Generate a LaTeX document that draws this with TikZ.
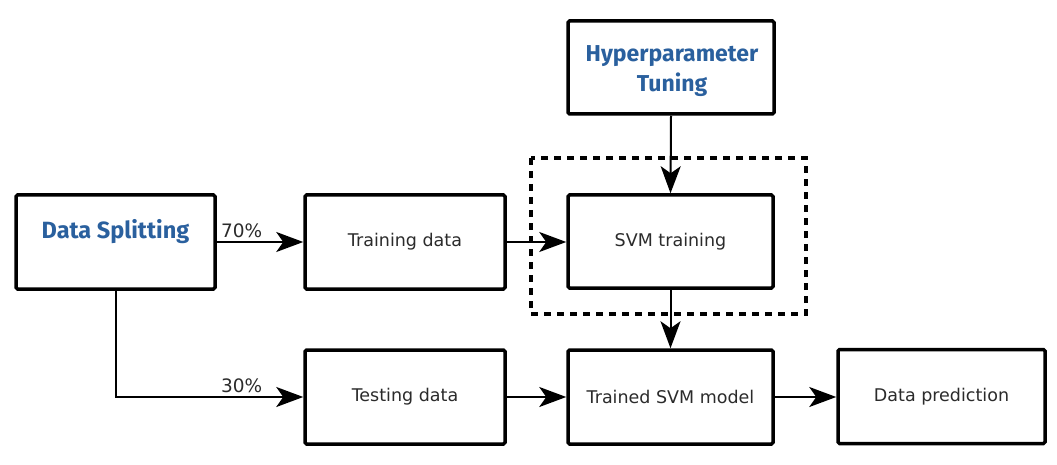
\documentclass[tikz,border=0pt]{standalone}
\usepackage{fontspec}
\setmainfont{DejaVu Sans}
\newfontfamily\headfont{Fira Sans}
\usetikzlibrary{arrows.meta}
\definecolor{headblue}{HTML}{2A609E}
\definecolor{txtgray}{HTML}{2B2B2B}
\tikzset{
  box/.style={draw=black, line width=3.5pt, rounded corners=1.5pt, minimum width=200pt, minimum height=93pt, inner sep=0pt, align=center, font=\fontsize{17.5}{20}\selectfont, text=txtgray},
  headtext/.style={font=\headfont\bfseries\fontsize{23}{30}\selectfont, text=headblue, inner sep=0pt, align=center},
  conn/.style={draw=black, line width=2pt, -{Stealth[length=27pt, width=20pt, inset=7pt]}},
  pct/.style={font=\fontsize{18.5}{20}\selectfont, text=txtgray, inner sep=0pt, anchor=base west},
  dashbox/.style={draw=black, line width=3.5pt, dash pattern=on 7pt off 6pt}
}
\begin{document}
\begin{tikzpicture}[x=1pt,y=-1pt]
\useasboundingbox (0,0) rectangle (1057,465);
\fill[white] (0,0) rectangle (1057,465);
% dashed grouping frame
\draw[dashbox] (531,158) rectangle (806,314);
% boxes
\node[box, minimum width=199pt, minimum height=94pt] (ds) at (115.5,242) {};
\node[headtext, font=\headfont\bfseries\fontsize{23.5}{30}\selectfont] (dstext) at (115.5,232) {Data Splitting};
\node[box, minimum height=94pt] (train) at (405,242) {Training data};
\node[box, minimum height=94pt] (test) at (405,397) {Testing data};
\node[box, minimum width=206pt] (hyp) at (671,67.5) {};
\node[headtext] (hyptext) at (672,71) {Hyperparameter\\Tuning};
\node[box, minimum width=205pt] (svm) at (670.5,241.5) {SVM training};
\node[box, minimum width=205pt, minimum height=94pt] (trained) at (670.5,397) {Trained SVM model};
\node[box, minimum width=207pt, minimum height=94pt] (pred) at (941.5,396.5) {Data prediction};
% connectors
\coordinate (corner) at (ds.south |- test.west);
\draw[conn] (ds.east |- train.west) -- (train.west);
\draw[conn] (ds.south) -- (corner) -- (test.west);
\draw[conn] (train.east) -- (svm.west |- train.east);
\draw[conn] (hyp.south) -- (svm.north);
\draw[conn] (svm.south) -- (trained.north);
\draw[conn] (test.east) -- (trained.west |- test.east);
\draw[conn] (trained.east) -- (pred.west |- trained.east);
% percentages
\node[pct] (p70) at (221,237) {70\%};
\node[pct] (p30) at (221,392) {30\%};
\end{tikzpicture}
\end{document}
